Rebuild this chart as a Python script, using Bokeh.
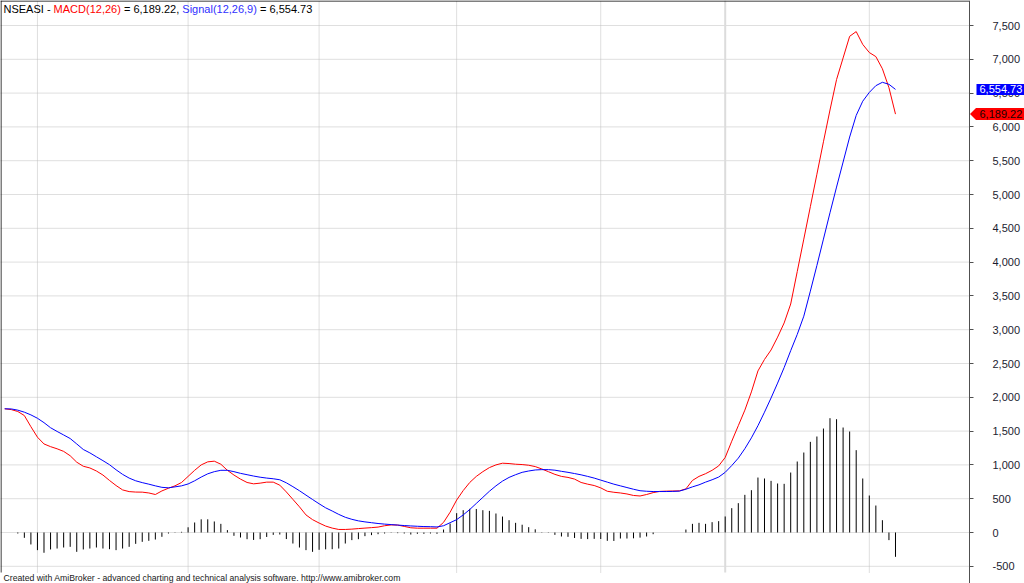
from bokeh.plotting import figure
from bokeh.models import (Range1d, FixedTicker, NumeralTickFormatter, Label,
                          PolyAnnotation, ColumnDataSource)
from bokeh.embed import file_html
from bokeh.resources import INLINE

# ---------------- data ----------------
macd = [1830, 1818, 1790, 1730, 1565, 1410, 1310, 1270, 1238, 1200,
        1135, 1040, 980, 955, 910, 850, 770, 695, 630, 605,
        598, 597, 585, 562, 615, 655, 690, 740, 830, 920,
        1000, 1045, 1055, 1010, 920, 850, 790, 740, 720, 730,
        745, 745, 700, 600, 490, 380, 260, 190, 140, 95,
        65, 45, 45, 50, 58, 65, 72, 80, 100, 112,
        110, 90, 70, 64, 64, 64, 64, 150, 300, 480,
        620, 740, 830, 900, 960, 1000, 1025, 1020, 1010, 1005,
        995, 975, 940, 900, 860, 830, 815, 790, 740, 715,
        695, 660, 610, 595, 585, 570, 548, 540, 562, 590,
        608, 612, 614, 616, 645, 770, 830, 870, 920, 985,
        1110, 1350, 1580, 1810, 2080, 2390, 2560, 2700, 2890, 3100,
        3380, 3860, 4340, 4820, 5300, 5780, 6250, 6700, 7020, 7340,
        7410, 7220, 7100, 7040, 6860, 6580, 6189.22]

signal = [1830, 1828, 1810, 1780, 1740, 1690, 1625, 1550, 1495, 1443,
          1390, 1310, 1228, 1178, 1120, 1063, 1003, 928, 860, 805,
          765, 738, 715, 690, 668, 661, 675, 690, 718, 765,
          820, 868, 900, 920, 920, 900, 875, 855, 835, 818,
          805, 795, 780, 735, 678, 618, 553, 488, 425, 365,
          318, 268, 225, 195, 172, 157, 145, 133, 124, 117,
          110, 103, 97, 92, 88, 86, 82, 100, 145, 190,
          260, 340, 430, 520, 610, 690, 760, 815, 855, 890,
          910, 925, 930, 930, 922, 905, 890, 872, 853, 830,
          805, 775, 745, 715, 690, 665, 640, 618, 610, 606,
          606, 606, 608, 612, 640, 675, 705, 745, 780, 820,
          890, 990, 1100, 1240, 1400, 1580, 1780, 1990, 2210, 2440,
          2690, 2930, 3200, 3570, 3950, 4340, 4730, 5110, 5480, 5850,
          6170, 6380, 6510, 6610, 6660, 6630, 6554.73]

hist = [0, 0, -15, -79, -177, -261, -300, -251, -237, -222,
        -212, -286, -251, -237, -222, -237, -247, -261, -237, -212,
        -168, -138, -123, -104, -64, -15, -5, 10, 77, 148,
        195, 195, 163, 128, 35, -49, -74, -99, -110, -99,
        -66, -35, -30, -97, -163, -222, -261, -286, -256, -249,
        -247, -237, -163, -113, -99, -54, -39, -25, -15, -5,
        -10, -15, -30, -20, -20, -15, -20, 44, 133, 286,
        330, 350, 348, 330, 320, 281, 236, 182, 143, 115,
        79, 47, 5, -5, -35, -59, -64, -81, -94, -98,
        -94, -96, -123, -125, -89, -89, -86, -76, -59, -25,
        0, 0, 0, 0, 44, 128, 143, 128, 153, 168,
        237, 360, 434, 557, 626, 813, 799, 764, 725, 720,
        887, 1050, 1183, 1341, 1420, 1538, 1691, 1676, 1553, 1494,
        1218, 799, 547, 399, 182, -113, -360]

bar_index = list(range(len(macd)))
y_ticks = [-500, 0, 500, 1000, 1500, 2000, 2500, 3000, 3500,
           4000, 4500, 5000, 5500, 6000, 6500, 7000, 7500]
month_lines = [5, 28, 48, 69, 91, 132]
year_lines = [110]

last_macd_text = "6,189.22"
last_signal_text = "6,554.73"
title_parts = [("NSEASI -", "#000000", 0.0),
               ("MACD(12,26)", "#FF0000", 50.1),
               ("= 6,189.22,", "#000000", 120.4),
               ("Signal(12,26,9)", "#3030FF", 178.8),
               ("= 6,554.73", "#000000", 256.5)]
footer = "Created with AmiBroker - advanced charting and technical analysis software. http://www.amibroker.com"

# ---------------- layout helpers (page pixels -> data) ----------------
FIG_W, FIG_H = 1024, 583
X0, SX = -0.641, 6.55          # bar index at page x=0, px per bar
SY = 14.793                    # value per px
Y_TOP = 532 * SY               # value at page y=0  (0 sits at y=532)
AXIS_PX = 969                  # page x of the value axis
CHART_BOTTOM_PX = 572          # bottom of the chart area


def dx(page_x):
    return X0 + page_x / SX


def dy(page_y):
    return Y_TOP - page_y * SY


FONT = "Liberation Sans"

p = figure(width=FIG_W, height=FIG_H,
           x_range=Range1d(X0, dx(FIG_W)),
           y_range=Range1d(dy(FIG_H), Y_TOP),
           y_axis_location="right", x_axis_location=None,
           toolbar_location=None, output_backend="svg",
           min_border_left=0, min_border_top=0,
           min_border_right=0, min_border_bottom=0)
p.title.visible = False
p.outline_line_color = None
p.background_fill_color = "white"
p.border_fill_color = "white"
p.xgrid.visible = False
p.ygrid.visible = False

# value axis drawn at a fixed place inside the plot
ax = p.yaxis[0]
ax.fixed_location = dx(AXIS_PX)
ax.ticker = FixedTicker(ticks=y_ticks)
ax.formatter = NumeralTickFormatter(format="0,0")
ax.axis_line_color = "#505050"
ax.major_tick_line_color = "#505050"
ax.major_tick_in = 0
ax.major_tick_out = 4
ax.minor_tick_line_color = None
ax.major_label_standoff = 19
ax.major_label_text_font = FONT
ax.major_label_text_font_size = "11px"
ax.major_label_text_color = "#1c1c30"

x_left, x_axis = dx(0), dx(AXIS_PX)
y_bottom, y_top = dy(CHART_BOTTOM_PX), Y_TOP

# horizontal grid lines (stop at the axis)
p.segment(x0=[x_left] * len(y_ticks), x1=[x_axis] * len(y_ticks), y0=y_ticks, y1=y_ticks,
          line_color="#BEBEBE", line_width=1, line_dash="1 1")
# vertical grid lines at month starts, solid light line at the year start
p.segment(x0=month_lines, x1=month_lines, y0=[y_bottom] * len(month_lines),
          y1=[y_top] * len(month_lines), line_color="#BEBEBE", line_width=1, line_dash="1 1")
p.segment(x0=year_lines, x1=year_lines, y0=[y_bottom] * len(year_lines),
          y1=[y_top] * len(year_lines), line_color="#DCDCDC", line_width=2)

# frame borders (top, left)
p.segment(x0=[x_left], x1=[x_axis], y0=[dy(0.5)], y1=[dy(0.5)], line_color="black", line_width=1)
p.segment(x0=[dx(0.5)], x1=[dx(0.5)], y0=[y_bottom], y1=[y_top], line_color="black", line_width=1)

src = ColumnDataSource(dict(i=bar_index, macd=macd, signal=signal, hist=hist,
                            zero=[0] * len(hist)))
p.segment(x0="i", y0="zero", x1="i", y1="hist", source=src,
          line_color="black", line_width=1)
p.line("i", "macd", source=src, line_color="#FF0000", line_width=1)
p.line("i", "signal", source=src, line_color="#0000FF", line_width=1)

# title
for text, color, off in title_parts:
    p.add_layout(Label(x=dx(3 + off), y=dy(8), text=text, text_color=color,
                       text_font=FONT, text_font_size="11px", text_baseline="middle"))

# footer
p.add_layout(Label(x=dx(3), y=dy(577), text=footer, text_color="#202020",
                   text_font=FONT, text_font_size="8.7px", text_baseline="middle"))

# last value markers
v_sig = signal[-1]
v_mac = macd[-1]
h_sig = 5.5 * SY
h_mac = 6 * SY
p.add_layout(PolyAnnotation(xs=[dx(976), dx(1024), dx(1024), dx(976)],
                            ys=[v_sig + h_sig, v_sig + h_sig, v_sig - h_sig, v_sig - h_sig],
                            fill_color="#0000FF", fill_alpha=1, line_color=None))
p.add_layout(Label(x=dx(979), y=v_sig, text=last_signal_text, text_color="white",
                   text_font=FONT, text_font_size="11px", text_baseline="middle"))
p.add_layout(PolyAnnotation(xs=[dx(969.5), dx(975.5), dx(1024), dx(1024), dx(975.5)],
                            ys=[v_mac, v_mac + h_mac, v_mac + h_mac, v_mac - h_mac, v_mac - h_mac],
                            fill_color="#FF0000", fill_alpha=1, line_color=None))
p.add_layout(Label(x=dx(979), y=v_mac, text=last_macd_text, text_color="#200000",
                   text_font=FONT, text_font_size="11px", text_baseline="middle"))

open("out.html", "w").write(file_html(p, INLINE))
